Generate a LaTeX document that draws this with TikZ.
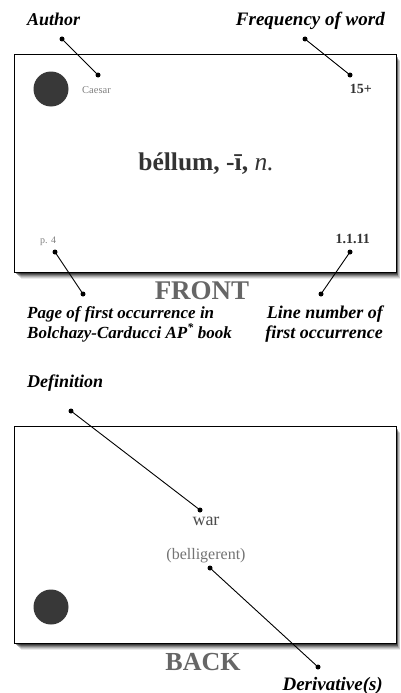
\documentclass[tikz,border=0pt]{standalone}
\usepackage{fontspec}
\setmainfont{Liberation Serif}
\begin{document}
\begin{tikzpicture}[x=1pt,y=-1pt,
  lbl/.style={font=\fontsize{#1}{20}\selectfont\bfseries\itshape, inner sep=0pt},
  lbl/.default=17,
  card/.style={draw=black, line width=0.9pt, fill=white},
  hole/.style={fill=black!78, draw=none},
  dotc/.style={line width=0.9pt},
  pin/.style={fill=black, draw=none},
  side/.style={font=\fontsize{#1}{28}\selectfont\bfseries, text=black!60, inner sep=0pt},
  side/.default=26,
  small/.style={inner sep=0pt}]
\useasboundingbox (0,0) rectangle (401,693);
% shadows
\foreach \o/\a in {7/0.08,6/0.12,5/0.16,4/0.22,3/0.3,2/0.38}{
  \fill[black, opacity=\a] (14+\o,54+\o) rectangle (396+\o*0.6,272+\o*1.0);
  \fill[black, opacity=\a] (14+\o,426+\o) rectangle (396+\o*0.6,643+\o*1.0);
}
% front card
\node[card, minimum width=382pt, minimum height=218pt, anchor=north west, inner sep=0pt] (front) at (14,54) {};
\fill[hole] (51,89) circle (17.5);
\node[small, anchor=base west, font=\fontsize{10.5}{12}\selectfont, text=black!50] (caesar) at (82,93) {Caesar};
\node[small, anchor=base east, font=\fontsize{14}{16}\selectfont\bfseries, text=black!80] (freq) at (372,93) {15+};
\node[small, anchor=base, font=\fontsize{25.5}{28}\selectfont\bfseries, text=black!80] (word) at (206,170) {béllum, -ī, {\mdseries\itshape n.}};
\node[small, anchor=base west, font=\fontsize{10}{12}\selectfont, text=black!50] (page) at (40,243) {p. 4};
\node[small, anchor=base east, font=\fontsize{14}{16}\selectfont\bfseries, text=black!80] (line) at (370,243) {1.1.11};
\node[side=27, anchor=base] (fronttxt) at (202,299) {FRONT};
% front labels
\node[lbl=18, anchor=base west] (author) at (27,26) {Author};
\node[lbl=19, anchor=base east] (freqlbl) at (385,26) {Frequency of word};
\node[lbl=17, anchor=base west, align=left] (pagelbl) at (27,338) {Page of first occurrence in\\[0pt]Bolchazy-Carducci AP\textsuperscript{*} book};
\node[lbl=18, anchor=base east, align=right] (linelbl) at (383,338) {Line number of\\[0pt]first occurrence};
% front connectors
\coordinate (a1) at (62,39); \coordinate (a2) at (98,75);
\coordinate (f1) at (305,39); \coordinate (f2) at (350,75);
\coordinate (p1) at (55,252); \coordinate (p2) at (83,294);
\coordinate (l1) at (350,252); \coordinate (l2) at (321,294);
\draw[dotc] (a1) -- (a2);
\draw[dotc] (f1) -- (f2);
\draw[dotc] (p1) -- (p2);
\draw[dotc] (l1) -- (l2);
\foreach \c in {a1,a2,f1,f2,p1,p2,l1,l2} \fill[pin] (\c) circle (2.5);
% back card
\node[card, minimum width=382pt, minimum height=217pt, anchor=north west, inner sep=0pt] (back) at (14,426) {};
\fill[hole] (51,607) circle (17.5);
\node[small, anchor=base, font=\fontsize{18}{20}\selectfont, text=black!70] (war) at (206,525) {war};
\node[small, anchor=base, font=\fontsize{16}{18}\selectfont, text=black!55] (deriv) at (206,559) {(belligerent)};
\node[side=26, anchor=base] (backtxt) at (203,670) {BACK};
\node[lbl=18, anchor=base west] (deflbl) at (27,387) {Definition};
\node[lbl=19, anchor=base east] (derivlbl) at (383,690) {Derivative(s)};
\coordinate (d1) at (71,411); \coordinate (d2) at (200,510);
\coordinate (r1) at (210,568); \coordinate (r2) at (318,667);
\draw[dotc] (d1) -- (d2);
\draw[dotc] (r1) -- (r2);
\foreach \c in {d1,d2,r1,r2} \fill[pin] (\c) circle (2.5);
\end{tikzpicture}
\end{document}
